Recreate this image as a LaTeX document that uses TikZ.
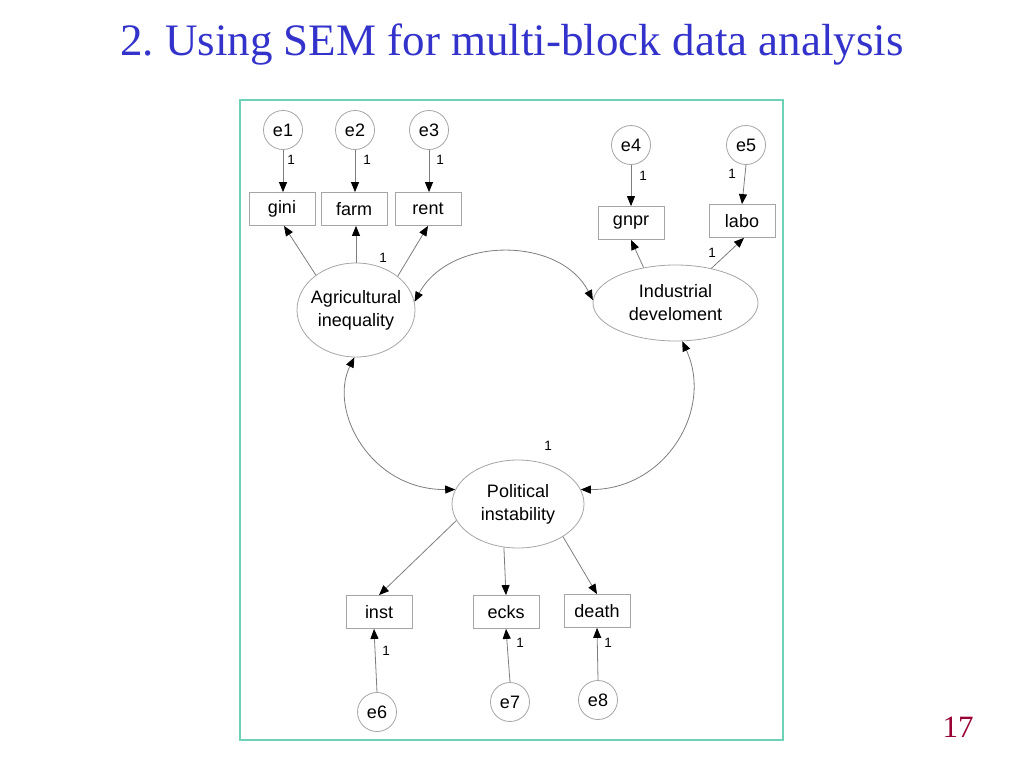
\documentclass[tikz,border=0pt]{standalone}
\usepackage{fontspec}
\setmainfont{Liberation Serif}
\newfontfamily\diag{Liberation Sans}
\usetikzlibrary{shapes.geometric,arrows.meta}
\definecolor{titleblue}{RGB}{51,51,204}
\definecolor{pagered}{RGB}{153,0,51}
\definecolor{framecol}{RGB}{110,210,185}
\definecolor{lncol}{RGB}{125,125,125}
\definecolor{bdcol}{RGB}{165,165,165}
\begin{document}
\begin{tikzpicture}[x=1pt,y=-1pt,
 every node/.style={font=\diag\fontsize{18}{23}\selectfont, text=black},
 errc/.style={circle,draw=bdcol,line width=0.8pt,minimum size=39pt,inner sep=0pt},
 obs/.style={rectangle,draw=bdcol,line width=0.8pt,minimum width=66pt,minimum height=33pt,inner sep=0pt},
 lat/.style={ellipse,draw=bdcol,line width=0.8pt,inner sep=-8pt,align=center},
 arr/.style={draw=lncol,line width=0.8pt,-{Triangle[length=10pt,width=8pt,black]}},
 darr/.style={draw=lncol,line width=0.8pt,{Triangle[length=10pt,width=8pt,black]}-{Triangle[length=10pt,width=8pt,black]}},
 wt/.style={font=\diag\fontsize{13.5}{15}\selectfont}
]
\useasboundingbox (0,0) rectangle (1024,768);
\node[font=\fontsize{45}{50}\selectfont, text=titleblue] (title) at (512,45) {2.\ Using SEM for multi-block data analysis};
\node[draw=framecol, line width=1.2pt, minimum width=543pt, minimum height=640pt, inner sep=0pt] (frame) at (511.5,420) {};
\node[font=\fontsize{31}{34}\selectfont, text=pagered] (pg) at (958,727) {17};

% error terms
\node[errc] (e1) at (283,130) {e1};
\node[errc] (e2) at (355,130) {e2};
\node[errc] (e3) at (429,130) {e3};
\node[errc] (e4) at (631,145) {e4};
\node[errc] (e5) at (746,145) {e5};
\node[errc] (e6) at (377,712) {e6};
\node[errc] (e7) at (510,702) {e7};
\node[errc] (e8) at (598,700) {e8};
% observed
\node[obs] (gini) at (282,209) {gini};
\node[obs] (farm) at (354,209) {farm};
\node[obs] (rent) at (428,209) {rent};
\node[obs] (gnpr) at (631,223) {gnpr};
\node[obs] (labo) at (742,221) {labo};
\node[obs] (inst) at (379,612) {inst};
\node[obs] (ecks) at (506,612) {ecks};
\node[obs] (death) at (597,611) {death};
% latent
\node[lat, minimum width=118pt, minimum height=94pt] (agri) at (356,310) {Agricultural\\inequality};
\node[lat, minimum width=165pt, minimum height=76pt] (ind) at (675.5,303) {Industrial\\develoment};
\node[lat, minimum width=132pt, minimum height=88pt] (pol) at (518,504) {Political\\instability};

% arrows
\draw[arr] (e1.south) -- (e1.south |- gini.north);
\draw[arr] (e2.south) -- (e2.south |- farm.north);
\draw[arr] (e3.south) -- (e3.south |- rent.north);
\draw[arr] (e4) -- (gnpr);
\draw[arr] (e5.south) -- (labo.north);
\draw[arr] (agri.139) -- ([xshift=2pt]gini.south);
\draw[arr] (agri.north) -- (agri.north |- farm.south);
\draw[arr] (agri.39) -- (rent.south);
\draw[arr] (ind.132) -- (gnpr.south);
\draw[arr] (ind.44) -- ([xshift=2pt]labo.south);
\draw[arr] (pol.195) -- (inst.north);
\draw[arr] (pol.252) -- (ecks.north);
\draw[arr] (pol.324) -- (death.north);
\draw[arr] (e6.north) -- ([xshift=-5pt]inst.south);
\draw[arr] (e7.north) -- (ecks.south);
\draw[arr] (e8.north) -- (death.south);
\draw[darr] (agri.8) .. controls (450,236) and (560,236) .. (ind.178);
\draw[darr] (agri.268) .. controls (328,410) and (370,490) .. (pol.167);
\draw[darr] (ind.280) .. controls (714,410) and (665,490) .. (pol.13);

% weights
\node[wt] (w1) at (291,160) {1};
\node[wt] (w2) at (367,160) {1};
\node[wt] (w3) at (440,160) {1};
\node[wt] (w4) at (383,258) {1};
\node[wt] (w5) at (643,176) {1};
\node[wt] (w6) at (732,174) {1};
\node[wt] (w7) at (712,253) {1};
\node[wt] (w8) at (548,446) {1};
\node[wt] (w9) at (386,651) {1};
\node[wt] (w10) at (520,643) {1};
\node[wt] (w11) at (608,643) {1};
\end{tikzpicture}
\end{document}
